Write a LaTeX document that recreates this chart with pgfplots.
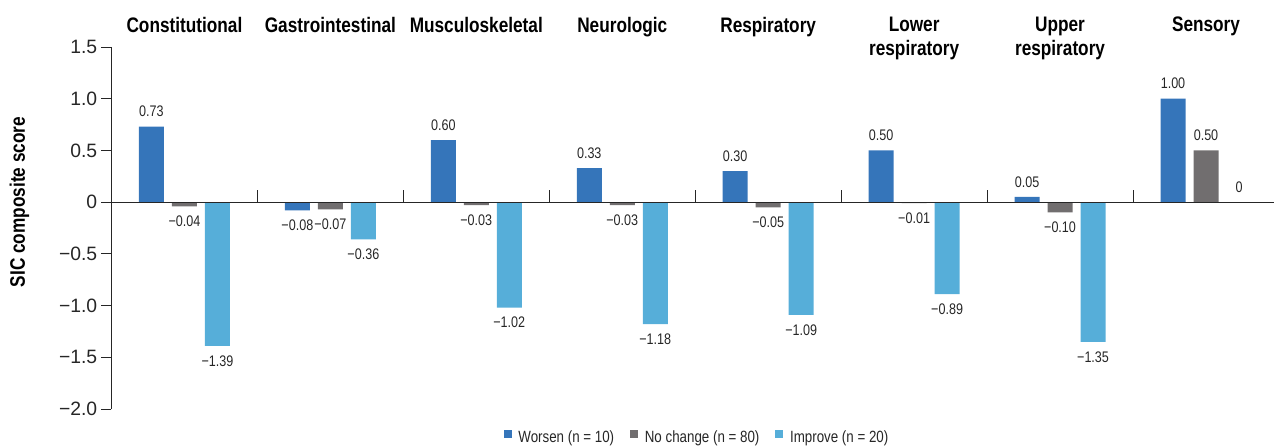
\documentclass[border=0pt]{standalone}
\usepackage{fontspec}
\setmainfont{Liberation Sans}
\newfontfamily\cond{Liberation Sans}[FakeStretch=0.82]
\usepackage{pgfplots}
\pgfplotsset{compat=1.18}
\definecolor{cworse}{HTML}{3575BA}
\definecolor{cnoch}{HTML}{716E6F}
\definecolor{cimpr}{HTML}{56AED9}
\tikzset{catlab/.style={anchor=north, align=center, inner sep=0pt, yshift=22.5pt,
    font=\cond\bfseries\fontsize{15.75}{17.5}\selectfont}}
\begin{document}
\begin{tikzpicture}
\begin{axis}[
  name=ax,
  scale only axis,
  width=871.9pt, height=271.5pt,
  xmin=-0.5, xmax=7.466,
  ymin=-2, ymax=1.5,
  axis x line=none,
  axis y line=left,
  y axis line style={-, black!85, line width=0.6pt},
  ytick={-2,-1.5,-1,-0.5,0,0.5,1,1.5},
  yticklabels={−2.0,−1.5,−1.0,−0.5,0,0.5,1.0,1.5},
  yticklabel style={font=\fontsize{14.5}{16}\selectfont, text=black!85, inner xsep=3pt},
  tick align=outside,
  major tick length=7.5pt,
  ytick style={black!85, line width=0.6pt},
  xtick=\empty,
  ybar=6pt, bar width=18.75pt,
  point meta=explicit symbolic,
  visualization depends on={rawy \as \ry},
  nodes near coords={\pgfplotspointmeta},
  every node near coord/.append style={font=\cond\fontsize{11.5}{13}\selectfont, text=black!85, inner ysep=7pt, inner xsep=0pt,
    anchor=\ifdim\ry pt<0pt north\else south\fi},
  legend columns=3,
  legend style={at={(0.504,-0.0801)}, anchor=center, draw=none, fill=none,
    font=\cond\fontsize{12.2}{14}\selectfont, text=black!85,
    /tikz/every odd column/.append style={column sep=3pt},
    /tikz/every even column/.append style={column sep=10pt}},
  legend image code/.code={\fill[#1,draw=none] (0pt,0pt) rectangle (6pt,6pt);},
  clip=false,
]
\addplot[fill=cworse, draw=none] coordinates {
 (0,0.73) [0.73] (1,-0.08) [−0.08] (2,0.60) [0.60] (3,0.33) [0.33]
 (4,0.30) [0.30] (5,0.50) [0.50] (6,0.05) [0.05] (7,1.00) [1.00]};
\addlegendentry{Worsen (n = 10)}
\addplot[fill=cnoch, draw=none] coordinates {
 (0,-0.04) [−0.04] (1,-0.07) [−0.07] (2,-0.03) [−0.03] (3,-0.03) [−0.03]
 (4,-0.05) [−0.05] (5,-0.01) [−0.01] (6,-0.10) [−0.10] (7,0.50) [0.50]};
\addlegendentry{No change (n = 80)}
\addplot[fill=cimpr, draw=none] coordinates {
 (0,-1.39) [−1.39] (1,-0.36) [−0.36] (2,-1.02) [−1.02] (3,-1.18) [−1.18]
 (4,-1.09) [−1.09] (5,-0.89) [−0.89] (6,-1.35) [−1.35] (7,0) [0]};
\addlegendentry{Improve (n = 20)}
\draw[black!85, line width=0.6pt] (axis cs:-0.5,0) -- (axis cs:7.466,0);
\pgfplotsinvokeforeach{0.5,1.5,2.5,3.5,4.5,5.5,6.5}{
  \draw[black!85, line width=0.6pt] (axis cs:#1,0) -- (axis cs:#1,0.115);
}
\node[catlab] at (axis cs:0,1.5) {Constitutional};
\node[catlab] at (axis cs:1,1.5) {Gastrointestinal};
\node[catlab] at (axis cs:2,1.5) {Musculoskeletal};
\node[catlab] at (axis cs:3,1.5) {Neurologic};
\node[catlab] at (axis cs:4,1.5) {Respiratory};
\node[catlab] at (axis cs:5,1.5) {Lower\\respiratory};
\node[catlab] at (axis cs:6,1.5) {Upper\\respiratory};
\node[catlab] at (axis cs:7,1.5) {Sensory};
\node[rotate=90, anchor=center, inner sep=0pt, font=\cond\bfseries\fontsize{15.75}{17.5}\selectfont]
  at ([xshift=-69pt]rel axis cs:0,0.572) {SIC composite score};
\end{axis}
\pgfresetboundingbox
\path ([xshift=-83.6pt,yshift=35.25pt]ax.north west) rectangle ([yshift=-28.5pt]ax.south east);
\end{tikzpicture}
\end{document}
